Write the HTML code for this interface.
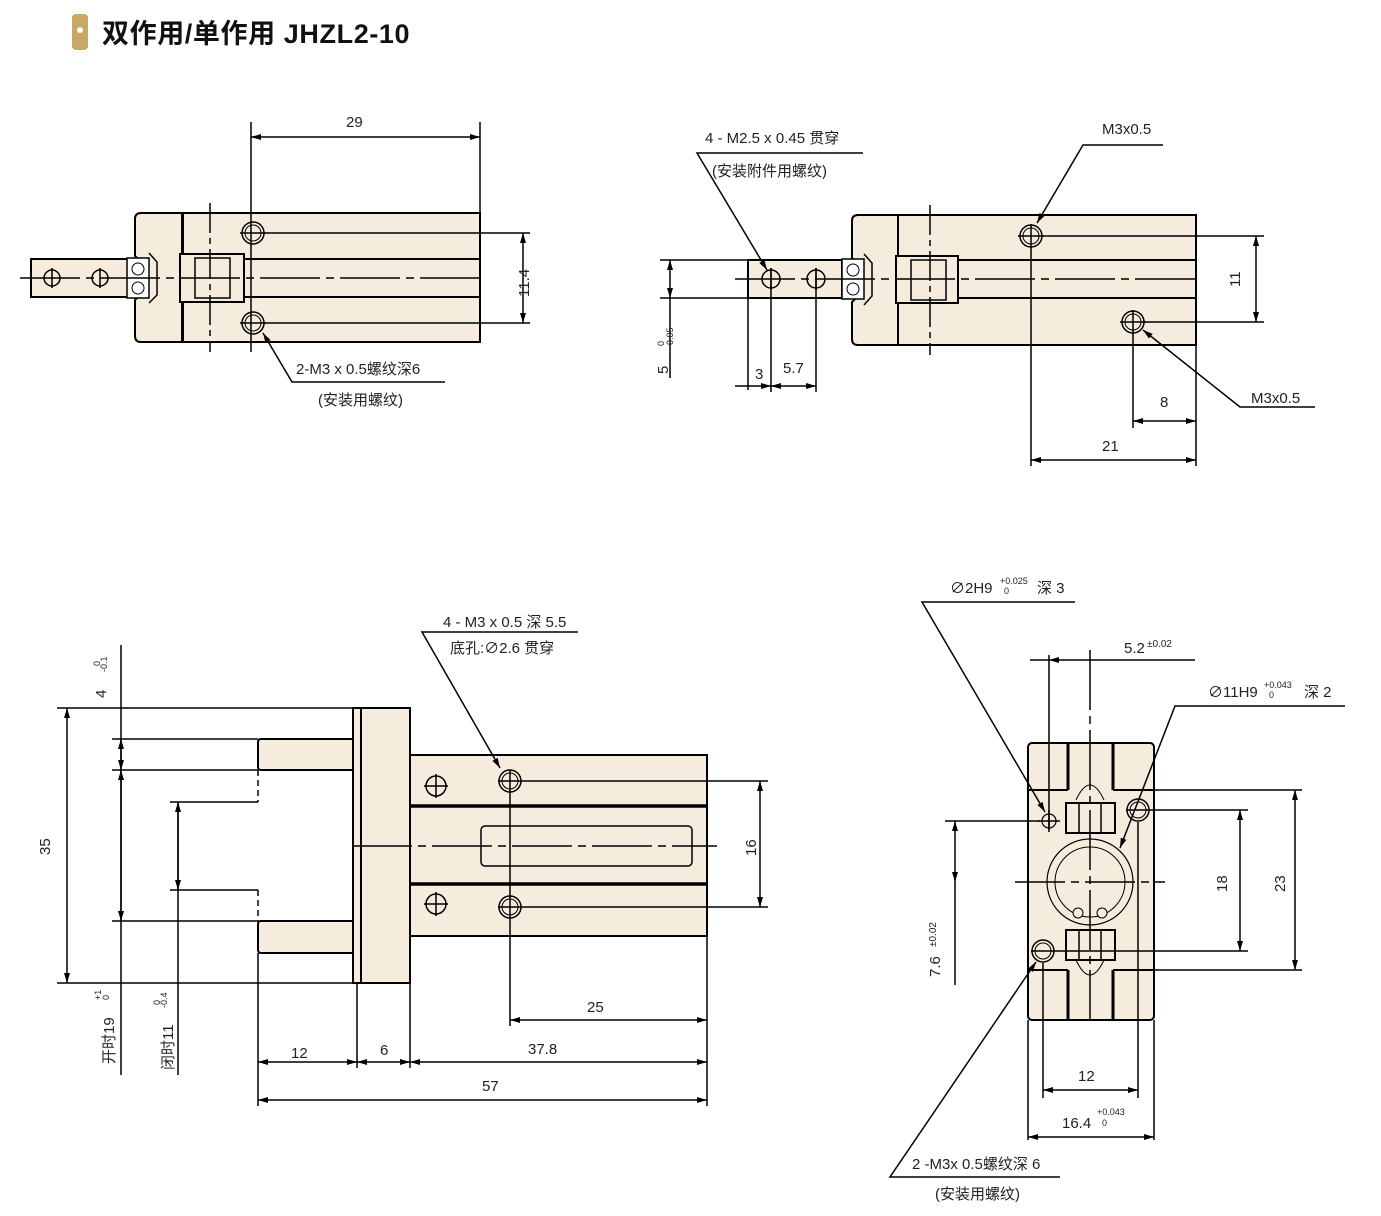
<!DOCTYPE html>
<html><head><meta charset="utf-8"><style>
html,body{margin:0;padding:0;background:#fff}
svg{display:block}
text{font-family:"Liberation Sans","Noto Sans CJK SC",sans-serif;fill:#222}
</style></head><body>
<svg width="1381" height="1216" viewBox="0 0 1381 1216" xmlns="http://www.w3.org/2000/svg">
<defs>
<marker id="a" viewBox="0 0 10 6" refX="10" refY="3" markerWidth="10" markerHeight="6" orient="auto-start-reverse" markerUnits="userSpaceOnUse"><path d="M0,0L10,3L0,6z" fill="#000"/></marker>
</defs>
<rect x="72" y="14" width="16" height="36" rx="4" fill="#c9a866"/>
<circle cx="80" cy="30" r="3" fill="#fff"/>
<text x="102" y="43" font-size="27" font-weight="bold" letter-spacing="0.6" style="fill:#111">双作用/单作用 JHZL2-10</text>

<g stroke="#000" stroke-width="2" fill="#f5ecdd">
<rect x="31" y="259" width="106" height="38"/>
<path d="M141,213 H182 V342 H141 Q135,342 135,336 V300 L141,294 V262 L135,256 V219 Q135,213 141,213Z"/>
<rect x="183" y="213" width="297" height="129"/>
<rect x="180" y="254" width="64" height="48"/>
<rect x="195" y="258" width="35" height="40" fill="none" stroke-width="1.5"/>
<rect x="127" y="258" width="22" height="40" fill="#fff" stroke-width="1.5"/>
<circle cx="138" cy="269" r="6" fill="#fff" stroke-width="1"/><circle cx="138" cy="288" r="6" fill="#fff" stroke-width="1"/>
<path d="M149,253 L157,262 V295 L149,303" fill="none" stroke-width="1.5"/>
<circle cx="52" cy="278" r="8" stroke-width="1.5"/><circle cx="100" cy="278" r="8" stroke-width="1.5"/>
<circle cx="253" cy="233" r="11" stroke-width="1.5"/><circle cx="253" cy="233" r="8" stroke-width="1"/>
<circle cx="253" cy="323" r="11" stroke-width="1.5"/><circle cx="253" cy="323" r="8" stroke-width="1"/>
<rect x="748" y="260" width="94" height="38"/>
<path d="M858,215 H898 V345 H858 Q852,345 852,339 V302 L858,296 V264 L852,258 V221 Q852,215 858,215Z"/>
<rect x="898" y="215" width="298" height="130"/>
<rect x="896" y="256" width="62" height="47"/>
<rect x="911" y="260" width="35" height="40" fill="none" stroke-width="1.5"/>
<rect x="842" y="259" width="22" height="40" fill="#fff" stroke-width="1.5"/>
<circle cx="853" cy="270" r="6" fill="#fff" stroke-width="1"/><circle cx="853" cy="289" r="6" fill="#fff" stroke-width="1"/>
<path d="M864,254 L872,263 V296 L864,305" fill="none" stroke-width="1.5"/>
<circle cx="771" cy="279" r="9" stroke-width="1.5"/><circle cx="816" cy="279" r="9" stroke-width="1.5"/>
<circle cx="1031" cy="236" r="11" stroke-width="1.5"/><circle cx="1031" cy="236" r="8" stroke-width="1"/>
<circle cx="1133" cy="322" r="11" stroke-width="1.5"/><circle cx="1133" cy="322" r="8" stroke-width="1"/>
<rect x="258" y="739" width="99" height="31" rx="3"/>
<rect x="258" y="921" width="99" height="32" rx="3"/>
<rect x="353" y="708" width="8" height="275"/>
<rect x="361" y="708" width="49" height="275"/>
<rect x="410" y="755" width="297" height="181"/>
<line x1="410" y1="806" x2="707" y2="806" stroke-width="3.5"/>
<line x1="410" y1="884" x2="707" y2="884" stroke-width="3.5"/>
<rect x="481" y="826" width="211" height="40" rx="4" stroke-width="1.5"/>
<circle cx="510" cy="781" r="11" stroke-width="1.5"/><circle cx="510" cy="781" r="8" stroke-width="1"/>
<circle cx="510" cy="907" r="11" stroke-width="1.5"/><circle cx="510" cy="907" r="8" stroke-width="1"/>
<circle cx="436" cy="786" r="10" stroke-width="1.5"/><circle cx="436" cy="904" r="10" stroke-width="1.5"/>
<rect x="1028" y="743" width="126" height="277" rx="4"/>
<path d="M1028,790 H1068 M1154,790 H1113" fill="none"/>
<path d="M1028,970 H1068 M1113,970 H1154" fill="none"/>
<line x1="1068" y1="743" x2="1068" y2="790" stroke-width="3"/><line x1="1113" y1="743" x2="1113" y2="790" stroke-width="3"/>
<line x1="1068" y1="970" x2="1068" y2="1020" stroke-width="3"/><line x1="1113" y1="970" x2="1113" y2="1020" stroke-width="3"/>
<path d="M1076,800 Q1090,770 1104,800" fill="none" stroke-width="1"/>
<path d="M1076,960 Q1090,990 1104,960" fill="none" stroke-width="1"/>
<rect x="1066" y="803" width="49" height="30"/><rect x="1079" y="803" width="22" height="30" fill="none" stroke-width="1.5"/>
<rect x="1066" y="930" width="49" height="30"/><rect x="1079" y="930" width="22" height="30" fill="none" stroke-width="1.5"/>
<circle cx="1090" cy="882" r="43" stroke-width="1.2"/>
<circle cx="1090" cy="882" r="35" fill="none" stroke-width="1"/>
<circle cx="1078" cy="913" r="5" stroke-width="1"/><circle cx="1102" cy="913" r="5" stroke-width="1"/>
<circle cx="1049" cy="821" r="7" stroke-width="1.2"/>
<circle cx="1138" cy="810" r="11" stroke-width="1.5"/><circle cx="1138" cy="810" r="8" stroke-width="1"/>
<circle cx="1043" cy="951" r="11" stroke-width="1.5"/><circle cx="1043" cy="951" r="8" stroke-width="1"/>
</g>

<g stroke="#000" stroke-width="1.5">
<path d="M52,268V288M100,268V288M240,233H266M240,323H266M771,268V290M816,268V290M1018,236H1044M1120,322H1146"/>
<path d="M424,786H448M436,774V798M424,904H448M436,892V916M498,781H522M498,907H522"/>
<path d="M1038,821H1060M1049,810V832M1126,810H1150M1031,951H1055"/>
</g>

<g stroke="#000" stroke-width="1.5" fill="none">
<path d="M20,278 H480" stroke-dasharray="60,6,8,6"/>
<line x1="245" y1="259" x2="480" y2="259" stroke-width="2"/><line x1="245" y1="297" x2="480" y2="297" stroke-width="2"/>
<line x1="210" y1="203" x2="210" y2="352" stroke-dasharray="30,5,6,5"/>
<line x1="735" y1="279" x2="1200" y2="279" stroke-dasharray="60,6,8,6"/>
<line x1="958" y1="260" x2="1196" y2="260" stroke-width="2"/><line x1="958" y1="298" x2="1196" y2="298" stroke-width="2"/>
<line x1="930" y1="205" x2="930" y2="355" stroke-dasharray="30,5,6,5"/>
<line x1="352" y1="846" x2="717" y2="846" stroke-dasharray="60,6,8,6"/>
<path d="M258,770 V802 M258,890 V921" stroke-dasharray="6,4"/>
<line x1="1090" y1="650" x2="1090" y2="1020" stroke-dasharray="60,6,8,6"/>
<line x1="1015" y1="882" x2="1165" y2="882" stroke-dasharray="50,6,8,6"/>
</g>

<g stroke="#000" stroke-width="1.5" fill="none">
<line x1="251" y1="122" x2="251" y2="352"/><line x1="480" y1="122" x2="480" y2="213"/>
<line x1="251" y1="137" x2="480" y2="137" marker-start="url(#a)" marker-end="url(#a)"/>
<line x1="265" y1="233" x2="530" y2="233"/><line x1="265" y1="323" x2="530" y2="323"/>
<line x1="523" y1="233" x2="523" y2="323" marker-start="url(#a)" marker-end="url(#a)"/>
<polyline points="445,382 292,382 263,333" marker-end="url(#a)"/>
<line x1="660" y1="260" x2="748" y2="260"/><line x1="660" y1="298" x2="748" y2="298"/>
<line x1="670" y1="260" x2="670" y2="298" marker-start="url(#a)" marker-end="url(#a)"/>
<line x1="670" y1="298" x2="670" y2="378"/>
<line x1="748" y1="298" x2="748" y2="390"/><line x1="771" y1="268" x2="771" y2="392"/><line x1="816" y1="268" x2="816" y2="392"/>
<line x1="735" y1="386" x2="771" y2="386" marker-end="url(#a)"/>
<line x1="771" y1="386" x2="816" y2="386" marker-start="url(#a)" marker-end="url(#a)"/>
<polyline points="863,153 697,153 767,270" marker-end="url(#a)"/>
<line x1="1043" y1="236" x2="1264" y2="236"/><line x1="1145" y1="322" x2="1264" y2="322"/>
<line x1="1256" y1="236" x2="1256" y2="322" marker-start="url(#a)" marker-end="url(#a)"/>
<line x1="1031" y1="224" x2="1031" y2="466"/><line x1="1133" y1="310" x2="1133" y2="428"/><line x1="1196" y1="345" x2="1196" y2="466"/>
<line x1="1133" y1="421" x2="1196" y2="421" marker-start="url(#a)" marker-end="url(#a)"/>
<line x1="1031" y1="460" x2="1196" y2="460" marker-start="url(#a)" marker-end="url(#a)"/>
<polyline points="1163,145 1083,145 1037,223" marker-end="url(#a)"/>
<polyline points="1315,407 1240,407 1143,330" marker-end="url(#a)"/>
<line x1="57" y1="708" x2="361" y2="708"/><line x1="57" y1="983" x2="361" y2="983"/>
<line x1="67" y1="708" x2="67" y2="983" marker-start="url(#a)" marker-end="url(#a)"/>
<line x1="112" y1="739" x2="258" y2="739"/><line x1="112" y1="770" x2="258" y2="770"/><line x1="112" y1="921" x2="258" y2="921"/>
<line x1="170" y1="802" x2="258" y2="802"/><line x1="170" y1="890" x2="258" y2="890"/>
<line x1="121" y1="645" x2="121" y2="1075"/>
<line x1="121" y1="739" x2="121" y2="770" marker-start="url(#a)" marker-end="url(#a)"/>
<line x1="121" y1="770" x2="121" y2="921" marker-start="url(#a)" marker-end="url(#a)"/>
<line x1="178" y1="802" x2="178" y2="1075"/>
<line x1="178" y1="802" x2="178" y2="890" marker-start="url(#a)" marker-end="url(#a)"/>
<line x1="258" y1="953" x2="258" y2="1106"/><line x1="357" y1="983" x2="357" y2="1068"/><line x1="410" y1="983" x2="410" y2="1068"/>
<line x1="707" y1="936" x2="707" y2="1106"/><line x1="510" y1="770" x2="510" y2="1026"/>
<line x1="258" y1="1062" x2="357" y2="1062" marker-start="url(#a)" marker-end="url(#a)"/>
<line x1="357" y1="1062" x2="410" y2="1062" marker-start="url(#a)" marker-end="url(#a)"/>
<line x1="410" y1="1062" x2="707" y2="1062" marker-start="url(#a)" marker-end="url(#a)"/>
<line x1="258" y1="1100" x2="707" y2="1100" marker-start="url(#a)" marker-end="url(#a)"/>
<line x1="510" y1="1020" x2="707" y2="1020" marker-start="url(#a)" marker-end="url(#a)"/>
<line x1="522" y1="781" x2="768" y2="781"/><line x1="522" y1="907" x2="768" y2="907"/>
<line x1="760" y1="781" x2="760" y2="907" marker-start="url(#a)" marker-end="url(#a)"/>
<polyline points="578,632 422,632 500,768" marker-end="url(#a)"/>
<line x1="1049" y1="655" x2="1049" y2="830"/>
<line x1="1090" y1="660" x2="1049" y2="660" marker-end="url(#a)"/><line x1="1030" y1="660" x2="1049" y2="660"/>
<line x1="1090" y1="660" x2="1195" y2="660"/>
<line x1="1150" y1="810" x2="1248" y2="810"/><line x1="1055" y1="951" x2="1248" y2="951"/>
<line x1="1240" y1="810" x2="1240" y2="951" marker-start="url(#a)" marker-end="url(#a)"/>
<line x1="1154" y1="790" x2="1302" y2="790"/><line x1="1154" y1="970" x2="1302" y2="970"/>
<line x1="1295" y1="790" x2="1295" y2="970" marker-start="url(#a)" marker-end="url(#a)"/>
<line x1="945" y1="821" x2="1040" y2="821"/>
<line x1="955" y1="821" x2="955" y2="882" marker-start="url(#a)" marker-end="url(#a)"/>
<line x1="955" y1="882" x2="955" y2="985"/>
<line x1="1138" y1="822" x2="1138" y2="1098"/><line x1="1043" y1="963" x2="1043" y2="1098"/>
<line x1="1043" y1="1090" x2="1138" y2="1090" marker-start="url(#a)" marker-end="url(#a)"/>
<line x1="1028" y1="1020" x2="1028" y2="1140"/><line x1="1154" y1="1020" x2="1154" y2="1140"/>
<line x1="1028" y1="1137" x2="1154" y2="1137" marker-start="url(#a)" marker-end="url(#a)"/>
<polyline points="1075,602 922,602 1045,812" marker-end="url(#a)"/>
<polyline points="1345,706 1175,706 1120,848" marker-end="url(#a)"/>
<polyline points="1060,1177 890,1177 1036,962" marker-end="url(#a)"/>
</g>

<g font-size="15">
<text x="346" y="127">29</text>
<text transform="translate(529,297) rotate(-90)">11.4</text>
<text x="296" y="374">2-M3 x 0.5螺纹深6</text>
<text x="318" y="405">(安装用螺纹)</text>
<text x="705" y="143">4 - M2.5 x 0.45 贯穿</text>
<text x="712" y="176">(安装附件用螺纹)</text>
<text x="1102" y="134">M3x0.5</text>
<text x="1251" y="403">M3x0.5</text>
<text transform="translate(1240,287) rotate(-90)">11</text>
<text x="1160" y="407">8</text>
<text x="1102" y="451">21</text>
<text x="755" y="379">3</text>
<text x="783" y="373">5.7</text>
<text transform="translate(668,374) rotate(-90)">5</text>
<text transform="translate(664,346) rotate(-90)" font-size="9">0</text>
<text transform="translate(673,348) rotate(-90)" font-size="9">-0.05</text>
<text x="443" y="627">4 - M3 x 0.5 深 5.5</text>
<text x="450" y="653">底孔:∅2.6 贯穿</text>
<text transform="translate(50,855) rotate(-90)">35</text>
<text transform="translate(106,698) rotate(-90)">4</text>
<text transform="translate(100,666) rotate(-90)" font-size="9">0</text>
<text transform="translate(107,672) rotate(-90)" font-size="9">-0.1</text>
<text transform="translate(114,1064) rotate(-90)">开时19</text>
<text transform="translate(101,1000) rotate(-90)" font-size="9">+1</text>
<text transform="translate(109,1000) rotate(-90)" font-size="9">0</text>
<text transform="translate(173,1070) rotate(-90)">闭时11</text>
<text transform="translate(160,1005) rotate(-90)" font-size="9">0</text>
<text transform="translate(167,1008) rotate(-90)" font-size="9">-0.4</text>
<text transform="translate(756,856) rotate(-90)">16</text>
<text x="587" y="1012">25</text>
<text x="291" y="1058">12</text>
<text x="380" y="1055">6</text>
<text x="528" y="1054">37.8</text>
<text x="482" y="1091">57</text>
<text x="950" y="593">∅2H9</text><text x="1000" y="584" font-size="9">+0.025</text><text x="1004" y="594" font-size="9">0</text><text x="1037" y="593">深 3</text>
<text x="1124" y="653">5.2</text><text x="1147" y="647" font-size="10">±0.02</text>
<text x="1208" y="697">∅11H9</text><text x="1264" y="688" font-size="9">+0.043</text><text x="1269" y="698" font-size="9">0</text><text x="1304" y="697">深 2</text>
<text transform="translate(1227,892) rotate(-90)">18</text>
<text transform="translate(1285,892) rotate(-90)">23</text>
<text transform="translate(940,977) rotate(-90)">7.6</text>
<text transform="translate(936,947) rotate(-90)" font-size="10">±0.02</text>
<text x="1078" y="1081">12</text>
<text x="1062" y="1128">16.4</text><text x="1097" y="1115" font-size="9">+0.043</text><text x="1102" y="1126" font-size="9">0</text>
<text x="912" y="1169">2 -M3x 0.5螺纹深 6</text>
<text x="935" y="1199">(安装用螺纹)</text>
</g>
</svg>
</body></html>
